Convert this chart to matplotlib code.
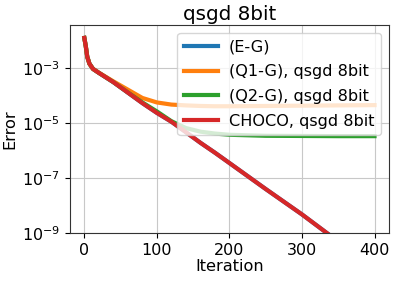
import matplotlib
matplotlib.use("Agg")
import matplotlib.pyplot as plt

iters = [0, 2, 4, 7, 12, 20, 40, 60, 80, 100, 120, 140, 160, 180, 200, 250, 300, 350, 400]

err_eg = [1.2e-2, 6e-3, 2.5e-3, 1.4e-3, 9e-4, 6.5e-4, 3.0e-4, 1.25e-4, 5.2e-5, 2.3e-5,
          1.1e-5, 4.6e-6, 1.9e-6, 8.3e-7, 3.5e-7, 4.0e-8, 4.8e-9, 5.0e-10, 6.0e-11]
err_q1 = [1.2e-2, 6e-3, 2.5e-3, 1.4e-3, 9e-4, 6.6e-4, 3.2e-4, 1.6e-4, 8.0e-5, 5.5e-5,
          4.6e-5, 4.3e-5, 4.1e-5, 4.0e-5, 4.0e-5, 4.1e-5, 4.2e-5, 4.3e-5, 4.4e-5]
err_q2 = [1.2e-2, 6e-3, 2.5e-3, 1.4e-3, 9e-4, 6.5e-4, 3.0e-4, 1.27e-4, 5.5e-5, 2.6e-5,
          1.15e-5, 6.5e-6, 4.8e-6, 4.1e-6, 3.7e-6, 3.4e-6, 3.35e-6, 3.3e-6, 3.3e-6]
err_choco = err_eg

labels = ["(E-G)", "(Q1-G), qsgd 8bit", "(Q2-G), qsgd 8bit", "CHOCO, qsgd 8bit"]
colors = ["tab:blue", "tab:orange", "tab:green", "tab:red"]

fig = plt.figure(figsize=(3.99, 2.82), dpi=100)
ax = fig.add_axes([0.175, 0.173, 0.8, 0.738])

for ys, lab, c in zip([err_eg, err_q1, err_q2, err_choco], labels, colors):
    ax.semilogy(iters, ys, color=c, lw=3, label=lab)

ax.set_ylim(1e-9, 3.5e-2)
ax.set_xlim(-20, 420)
ax.set_xticks([0, 100, 200, 300, 400])
ax.set_yticks([1e-3, 1e-5, 1e-7, 1e-9])
ax.minorticks_off()
ax.tick_params(labelsize=11.5)
ax.grid(True, color="#c8c8c8")
for s in ax.spines.values():
    s.set_color("#333333")
ax.set_xlabel("Iteration", fontsize=11.6, labelpad=1)
ax.set_ylabel("Error", fontsize=11.6, labelpad=3)
ax.set_title("qsgd 8bit", fontsize=14.3, pad=4)
ax.legend(loc="upper right", fontsize=11.6, handlelength=2.1, borderaxespad=0.5,
          handletextpad=0.7, labelspacing=0.6, borderpad=0.4)

fig.savefig("out.png", dpi=100)
